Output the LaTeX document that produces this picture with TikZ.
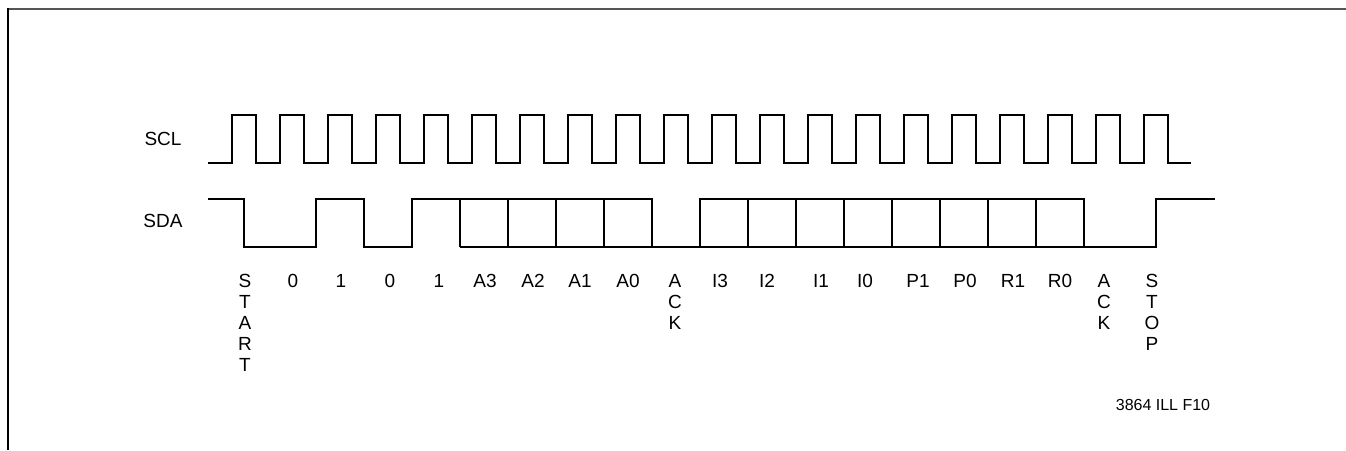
\documentclass[tikz,border=0pt]{standalone}
\usepackage{fontspec}
\setmainfont{Liberation Sans}
\definecolor{framegray}{RGB}{85,85,85}
\begin{document}
\begin{tikzpicture}[x=1pt,y=-1pt,
  wave/.style={line width=2.5pt, line join=miter},
  lbl/.style={font=\fontsize{19}{21}\selectfont, inner sep=0pt, anchor=north, align=center},
  sig/.style={font=\fontsize{19}{21}\selectfont, inner sep=0pt, anchor=center},
  note/.style={font=\fontsize{16}{18}\selectfont, inner sep=0pt, anchor=center}]
\useasboundingbox (0,0) rectangle (1346,450);
% frame
\draw[line width=2pt, framegray] (8,9) -- (1346,9);
\draw[line width=2pt, black] (8,450) -- (8,8);
% signal names
\node[sig] (scl) at (163,138.5) {SCL};
\node[sig] (sda) at (163,221) {SDA};
% SCL waveform
\draw[wave] (208,163) \foreach \k in {0,...,19} { -| ({232+48*\k},115) -| ({256+48*\k},163) } -- (1191,163);
% SDA waveform
\draw[wave] (208,199) -| (244,247) -| (316,199) -| (364,247) -| (412,199) -| (652,247) -- (1156,247) |- (1215,199);
\draw[wave] (460,247) -- (652,247);
\foreach \k in {0,...,3} { \draw[wave] ({460+48*\k},199) -- ({460+48*\k},247); }
\draw[wave] (700,247) |- (1084,199) -- (1084,247);
\foreach \k in {1,...,7} { \draw[wave] ({700+48*\k},199) -- ({700+48*\k},247); }
% bit labels
\node[lbl] (lstart) at (245,274) {S\\T\\A\\R\\T};
\node[lbl] (b0) at (293,274) {0};
\node[lbl] (b1) at (341,274) {1};
\node[lbl] (b2) at (390,274) {0};
\node[lbl] (b3) at (439,274) {1};
\node[lbl] (a3) at (485,274) {A3};
\node[lbl] (a2) at (533,274) {A2};
\node[lbl] (a1) at (580,274) {A1};
\node[lbl] (a0) at (628,274) {A0};
\node[lbl] (ack1) at (675,274) {A\\C\\K};
\node[lbl] (i3) at (720,274) {I3};
\node[lbl] (i2) at (767,274) {I2};
\node[lbl] (i1) at (821,274) {I1};
\node[lbl] (i0) at (865,274) {I0};
\node[lbl] (p1) at (918,274) {P1};
\node[lbl] (p0) at (965,274) {P0};
\node[lbl] (r1) at (1013,274) {R1};
\node[lbl] (r0) at (1060,274) {R0};
\node[lbl] (ack2) at (1104,274) {A\\C\\K};
\node[lbl] (lstop) at (1152,274) {S\\T\\O\\P};
% figure id
\node[note] (fig) at (1163,405) {3864 ILL F10};
\end{tikzpicture}
\end{document}
